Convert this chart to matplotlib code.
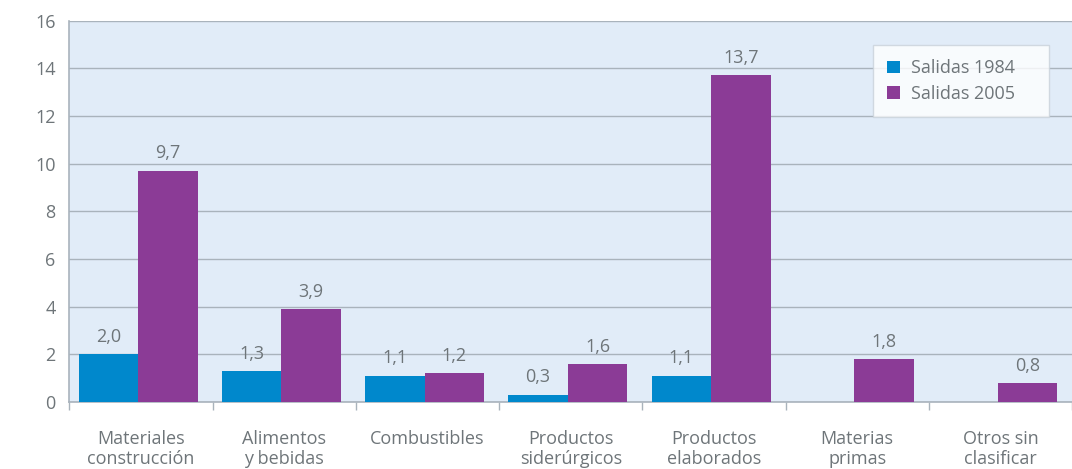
import numpy as np
import matplotlib.pyplot as plt
from matplotlib.ticker import FixedLocator

categorias = ["Materiales\nconstrucción", "Alimentos\ny bebidas", "Combustibles",
              "Productos\nsiderúrgicos", "Productos\nelaborados", "Materias\nprimas",
              "Otros sin\nclasificar"]
salidas_1984 = [2.0, 1.3, 1.1, 0.3, 1.1, np.nan, np.nan]
salidas_2005 = [9.7, 3.9, 1.2, 1.6, 13.7, 1.8, 0.8]
yticks = [0, 2, 4, 6, 8, 10, 12, 14, 16]

azul = "#0088cc"
morado = "#8b3b96"
gris = "#6e7579"
linea = "#a9b3bc"

plt.rcParams['font.family'] = ['Open Sans', 'DejaVu Sans']

fig = plt.figure(figsize=(10.72, 4.69), dpi=100)
ax = fig.add_axes([0.0648, 0.1429, 0.9352, 0.8131])
ax.set_facecolor("#e1ecf8")

x = np.arange(len(categorias)) - 0.02
w = 0.415
b1 = ax.bar(x - w / 2, salidas_1984, w, color=azul, label="Salidas 1984", zorder=3)
b2 = ax.bar(x + w / 2, salidas_2005, w, color=morado, label="Salidas 2005", zorder=3)

for bars, vals in ((b1, salidas_1984), (b2, salidas_2005)):
    for r, v in zip(bars, vals):
        if np.isnan(v):
            continue
        ax.annotate(f"{v:.1f}".replace(".", ","), (r.get_x() + r.get_width() / 2, v),
                    xytext=(0, 6), textcoords="offset points", ha="center", va="bottom",
                    fontsize=13, color=gris)

ax.set_xlim(-0.5, len(categorias) - 0.5)
ax.set_ylim(0, 16)
ax.set_yticks(yticks)
ax.yaxis.grid(True, color=linea, linewidth=1, zorder=0)
ax.set_axisbelow(True)

ax.set_xticks(np.arange(len(categorias)))
ax.set_xticklabels(categorias, fontsize=13, color=gris, linespacing=1.15)
ax.xaxis.set_minor_locator(FixedLocator(np.arange(-0.5, len(categorias), 1.0)))
ax.tick_params(axis="x", which="major", length=0, pad=20)
ax.tick_params(axis="x", which="minor", length=6, color=linea, width=1)
ax.tick_params(axis="y", length=0, labelsize=13, labelcolor=gris, pad=10)

for s in ("top", "right"):
    ax.spines[s].set_visible(False)
for s in ("left", "bottom"):
    ax.spines[s].set_color(linea)
    ax.spines[s].set_linewidth(1.2)

leg = ax.legend(loc="upper left", bbox_to_anchor=(0.8015, 0.736, 0.1756, 0.2),
                mode="expand", borderaxespad=0, fontsize=13,
                frameon=True, fancybox=False, handlelength=0.7, handleheight=0.7,
                handletextpad=0.6, borderpad=0.8, labelspacing=0.4)
leg.get_frame().set_edgecolor("#c9d2da")
leg.get_frame().set_linewidth(1)
for t in leg.get_texts():
    t.set_color(gris)

fig.savefig("out.png", dpi=100)
